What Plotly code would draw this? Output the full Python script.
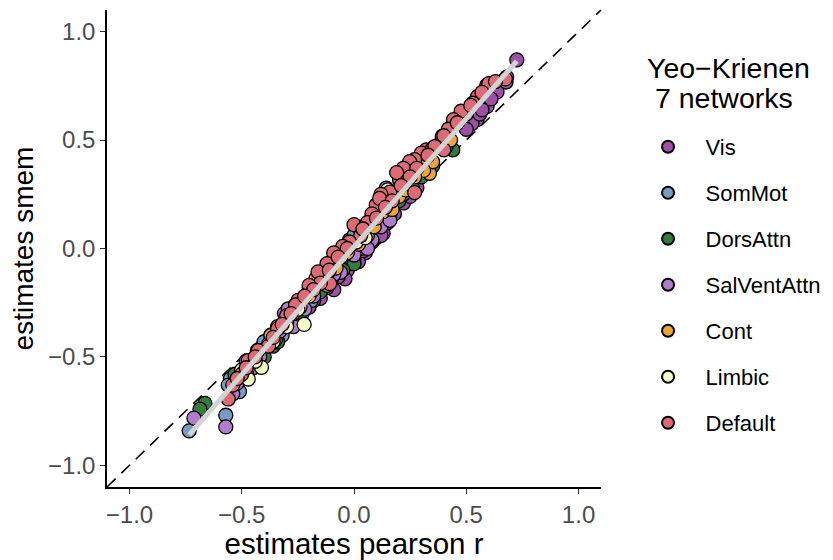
import numpy as np
import plotly.graph_objects as go

networks = ["Vis", "SomMot", "DorsAttn", "SalVentAttn", "Cont", "Limbic", "Default"]
colors = ["#9E4FA6", "#779DC4", "#357A3E", "#B07CCB", "#E9A43A", "#F4FCC6", "#DC6B76"]

vis_x = [0.725, 0.677, 0.637, 0.593, 0.548, 0.525, 0.56, 0.50, 0.13, 0.10, 0.08, 0.05, 0.02,
         -0.03, -0.04, -0.09, -0.15, -0.18, -0.25, 0.18, 0.15, 0.22, -0.05, 0.0,
         0.68, 0.61, 0.57, 0.10, 0.06, 0.12, 0.04, -0.01, -0.07, -0.12, -0.20, 0.25, 0.28]
vis_y = [0.870, 0.768, 0.722, 0.656, 0.594, 0.576, 0.62, 0.55, 0.07, 0.05, 0.03, -0.02, -0.06,
         -0.10, -0.14, -0.19, -0.23, -0.24, -0.33, 0.16, 0.12, 0.21, -0.09, -0.05,
         0.79, 0.69, 0.64, 0.08, 0.02, 0.06, -0.01, -0.07, -0.13, -0.18, -0.27, 0.24, 0.28]

som_x = [-0.734, -0.571, -0.55, -0.53, -0.51, -0.56, -0.45, -0.40, -0.41, -0.33, -0.32, -0.20,
         -0.19, -0.05, -0.02, -0.08, 0.144, 0.13, 0.0,
         -0.48, -0.43, -0.37, -0.28, -0.24, -0.11, -0.14, 0.05, 0.09, -0.52]
som_y = [-0.841, -0.769, -0.60, -0.64, -0.66, -0.63, -0.52, -0.43, -0.47, -0.36, -0.40, -0.19,
         -0.24, -0.01, 0.04, -0.03, 0.278, 0.24, 0.06,
         -0.52, -0.47, -0.40, -0.29, -0.25, -0.08, -0.12, 0.10, 0.14, -0.58]

dors_x = [-0.664, -0.686, -0.53, -0.36, -0.34, -0.30, -0.27, -0.10, -0.02, 0.0, 0.05, 0.20,
          0.22, 0.30, 0.44, 0.41,
          -0.46, -0.40, -0.23, -0.15, 0.08, 0.12, 0.16, 0.26, 0.35, -0.05]
dors_y = [-0.714, -0.741, -0.58, -0.45, -0.43, -0.36, -0.34, -0.14, -0.04, -0.07, 0.02, 0.22,
          0.25, 0.33, 0.455, 0.47,
          -0.53, -0.50, -0.30, -0.20, 0.04, 0.12, 0.16, 0.28, 0.38, -0.10]

sal_x = [-0.713, -0.571, -0.54, -0.52, -0.38, -0.35, -0.31, -0.293, -0.27, -0.22, -0.12, -0.06,
         0.03, 0.08, 0.12, -0.45,
         -0.42, -0.48, -0.33, -0.18, -0.09, 0.00, 0.06, 0.16, -0.26]
sal_y = [-0.782, -0.823, -0.67, -0.62, -0.44, -0.42, -0.30, -0.278, -0.36, -0.28, -0.17, -0.11,
         0.0, 0.04, 0.10, -0.55,
         -0.50, -0.57, -0.38, -0.22, -0.12, -0.03, 0.00, 0.13, -0.26]

cont_x = [0.393, 0.40, 0.336, 0.35, 0.31, 0.27, 0.20, 0.13, 0.06, 0.02, -0.03, -0.08, -0.17,
          -0.24, -0.30, -0.37,
          0.43, 0.32, 0.23, 0.17, 0.09, -0.01, -0.12, -0.20, -0.34, -0.27]
cont_y = [0.517, 0.49, 0.347, 0.40, 0.36, 0.33, 0.24, 0.17, 0.06, 0.02, -0.02, -0.09, -0.14,
          -0.27, -0.34, -0.40,
          0.50, 0.42, 0.27, 0.18, 0.10, 0.02, -0.12, -0.22, -0.36, -0.30]

limb_x = [-0.412, -0.471, -0.222, -0.36, -0.50, 0.15, -0.10, -0.25, 0.01,
          -0.44, -0.30, -0.06, 0.05]
limb_y = [-0.548, -0.602, -0.350, -0.43, -0.56, 0.27, -0.06, -0.28, 0.03,
          -0.52, -0.36, -0.04, 0.05]

def_x = [0.674, 0.591, 0.60, 0.55, 0.53, 0.50, 0.477, 0.443, 0.42, 0.38, 0.322, 0.30, 0.27,
         0.248, 0.240, 0.22, 0.203, 0.19, 0.270, 0.16, 0.12, 0.099, 0.114, 0.08, 0.06, 0.018,
         0.00, 0.03, -0.02, -0.05, -0.09, -0.12, -0.160, -0.108, -0.15, -0.20, -0.249, -0.26,
         -0.30, -0.34, -0.38, -0.427, -0.471, -0.50, -0.560, -0.54, 0.35, 0.40,
         0.63, 0.57, 0.52, 0.46, 0.40, 0.36, 0.33, 0.28, 0.25, 0.21, 0.17, 0.14, 0.10, 0.04,
         -0.03, -0.07, -0.11, -0.18, -0.22, -0.28, -0.32, -0.36, -0.44, -0.48, -0.52]
def_y = [0.782, 0.752, 0.76, 0.70, 0.67, 0.62, 0.633, 0.594, 0.55, 0.48, 0.455, 0.44, 0.41,
         0.401, 0.355, 0.37, 0.316, 0.35, 0.258, 0.26, 0.25, 0.201, 0.231, 0.16, 0.12, 0.100,
         0.11, 0.06, 0.03, 0.01, -0.02, -0.07, -0.108, -0.162, -0.16, -0.17, -0.239, -0.26,
         -0.31, -0.37, -0.45, -0.471, -0.517, -0.58, -0.694, -0.63, 0.46, 0.455,
         0.77, 0.72, 0.66, 0.58, 0.52, 0.47, 0.43, 0.37, 0.33, 0.29, 0.22, 0.19, 0.14, 0.09,
         0.00, -0.04, -0.10, -0.19, -0.22, -0.30, -0.35, -0.41, -0.50, -0.55, -0.60]

xs = [vis_x, som_x, dors_x, sal_x, cont_x, limb_x, def_x]
ys = [vis_y, som_y, dors_y, sal_y, cont_y, limb_y, def_y]

x_ticks = [-1.0, -0.5, 0.0, 0.5, 1.0]
y_ticks = [-1.0, -0.5, 0.0, 0.5, 1.0]
axis_range = [-1.1, 1.1]
legend_title_lines = ["Yeo\u2212Krienen", "\u00a07 networks"]

FONT = "Liberation Sans, Arial, Helvetica, sans-serif"

fig = go.Figure()
for name, col, x, y in zip(networks, colors, xs, ys):
    fig.add_trace(go.Scatter(
        x=x, y=y, mode="markers", name=name, legendgroup=name,
        marker=dict(size=14, color=col, line=dict(color="black", width=1.3)),
    ))

all_x = np.concatenate([np.array(v) for v in xs])
all_y = np.concatenate([np.array(v) for v in ys])
slope, intercept = np.polyfit(all_x, all_y, 1)
fx = np.array([all_x.min(), all_x.max()])
fig.add_trace(go.Scatter(
    x=fx, y=slope * fx + intercept, mode="lines", showlegend=False,
    line=dict(color="#D3D3D3", width=5), hoverinfo="skip",
))

fig.add_shape(type="line", xref="paper", yref="paper", x0=0, y0=0, x1=1, y1=1,
              line=dict(color="black", width=1.6, dash="12px,8px"), layer="below")

axis_common = dict(
    range=axis_range, showgrid=False, zeroline=False, showline=True, automargin=False,
    linecolor="black", linewidth=1.5, ticks="outside", ticklen=5, tickwidth=1.2,
    tickcolor="#333333", tickformat=".1f",
    tickfont=dict(family=FONT, size=24, color="#4D4D4D"),
)
fig.update_xaxes(**axis_common, tickvals=x_ticks,
                 title=dict(text="estimates pearson r", font=dict(family=FONT, size=29.5, color="black"), standoff=0))
fig.update_yaxes(**axis_common, tickvals=y_ticks,
                 title=dict(text="estimates smem", font=dict(family=FONT, size=28, color="black"), standoff=14))

# legend title as two text lines
for txt, yy in zip(legend_title_lines, [0.879, 0.815]):
    fig.add_annotation(text=txt, xref="paper", yref="paper", x=1.089, y=yy,
                       xanchor="left", yanchor="middle", showarrow=False,
                       font=dict(family=FONT, size=28.5, color="black"))

fig.update_layout(
    width=825, height=552,
    margin=dict(l=99, r=232, t=2, b=73, autoexpand=False),
    plot_bgcolor="white", paper_bgcolor="white",
    font=dict(family=FONT),
    legend=dict(
        font=dict(family=FONT, size=22, color="black"),
        x=1.0598, xanchor="left", y=0.757, yanchor="top",
        tracegroupgap=14.4, itemwidth=65, itemsizing="constant", bgcolor="rgba(0,0,0,0)",
    ),
)

fig.write_html("out.html")
